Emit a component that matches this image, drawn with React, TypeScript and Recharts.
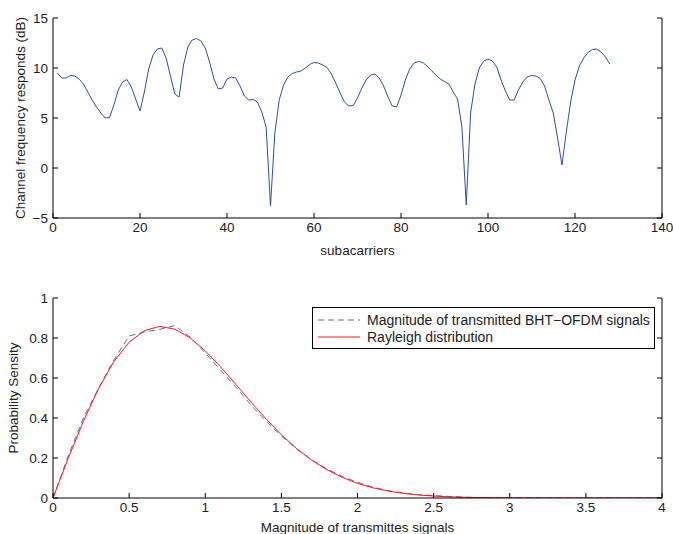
import { LineChart, Line, XAxis, YAxis } from 'recharts';

// channel frequency response (dB), subcarriers 1..128
const channelResponse = [
  9.5, 9.0, 9.0, 9.25, 9.2, 8.9, 8.4, 7.6, 6.8, 6.1,
  5.5, 5.0, 5.05, 6.3, 7.8, 8.6, 8.85, 8.1, 6.9, 5.7,
  7.6, 9.9, 11.3, 11.9, 12.0, 11.0, 9.2, 7.4, 7.1, 10.3,
  12.1, 12.8, 12.95, 12.7, 12.0, 10.6, 8.9, 7.9, 8.0, 8.9,
  9.1, 9.0, 8.2, 7.2, 6.8, 6.85, 6.6, 5.6, 4.1, -3.8,
  3.5, 6.8, 8.3, 9.1, 9.45, 9.6, 9.7, 10.0, 10.35, 10.55,
  10.5, 10.3, 10.05, 9.4, 8.5, 7.5, 6.6, 6.2, 6.25, 7.0,
  8.0, 8.8, 9.3, 9.4, 9.0, 8.2, 7.1, 6.2, 6.1, 7.3,
  8.8, 9.9, 10.5, 10.65, 10.55, 10.2, 9.75, 9.3, 8.9, 8.65,
  8.4, 7.6, 6.9, 4.1, -3.7, 5.5, 8.4, 10.0, 10.7, 10.9,
  10.7, 10.1, 8.8, 7.7, 6.8, 6.8, 7.8, 8.6, 9.1, 9.25,
  9.2, 8.95, 8.2, 6.8, 5.5, 3.0, 0.3, 3.6, 6.6, 8.8,
  10.2, 11.0, 11.55, 11.85, 11.9, 11.6, 11.1, 10.4,
];
const subcarriers = channelResponse.map((_, i) => i + 1);
const subcarrierTicks = [0, 20, 40, 60, 80, 100, 120, 140];
const responseTicks = [-5, 0, 5, 10, 15];

// probability density, magnitude 0..4 in steps of 0.1
const bhtOfdmDensity = [
  0, 0.21, 0.4, 0.55, 0.69, 0.81, 0.83, 0.843, 0.862, 0.805,
  0.725, 0.64, 0.555, 0.465, 0.385, 0.31, 0.245, 0.19, 0.145, 0.108,
  0.078, 0.055, 0.037, 0.025, 0.017, 0.012, 0.008, 0.004, 0.002, 0.002,
  0.001, 0.001, 0.001, 0, 0, 0, 0, 0, 0, 0, 0,
];
const rayleighDensity = [
  0, 0.198, 0.384, 0.548, 0.682, 0.779, 0.837, 0.858, 0.844, 0.801,
  0.736, 0.656, 0.569, 0.48, 0.395, 0.316, 0.247, 0.189, 0.141, 0.103,
  0.073, 0.051, 0.035, 0.023, 0.015, 0.0097, 0.006, 0.0037, 0.0022, 0.0013,
  0.0007, 0.0004, 0.0002, 0.0001, 0, 0, 0, 0, 0, 0, 0,
];
const magnitudes = rayleighDensity.map((_, i) => i / 10);
const magnitudeTicks = [0, 0.5, 1, 1.5, 2, 2.5, 3, 3.5, 4];
const densityTicks = [0, 0.2, 0.4, 0.6, 0.8, 1];

const font = '"Liberation Sans", Arial, sans-serif';
const tickStyle = { fill: '#222', fontSize: 13.5, fontFamily: font };
const labelStyle = { fill: '#222', fontSize: 13.5, fontFamily: font, textAnchor: 'middle' as const };
const minus = (v: number) => (v < 0 ? `\u2212${Math.abs(v)}` : `${v}`);
const blank = () => '';

const W = 673;
const H = 270;
const margin = { top: 18, right: 10, bottom: 0, left: 0 };

export default function App() {
  const channelData = subcarriers.map((x, i) => ({ x, db: channelResponse[i] }));
  const densityData = magnitudes.map((x, i) => ({
    x,
    bht: bhtOfdmDensity[i],
    rayleigh: rayleighDensity[i],
  }));

  return (
    <div style={{ position: 'relative', width: W, height: 534, overflow: 'hidden', background: '#fff' }}>
      <style>{'body{margin:0}'}</style>

      <div style={{ position: 'absolute', left: 0, top: 0 }}>
        <LineChart width={W} height={H} data={channelData} margin={margin}>
          <XAxis
            dataKey="x"
            type="number"
            domain={[0, 140]}
            ticks={subcarrierTicks}
            allowDataOverflow
            stroke="#000"
            tickSize={-5}
            tickMargin={9}
            tick={tickStyle}
            height={52}
            label={{ value: 'subacarriers', position: 'insideBottom', offset: 15, style: labelStyle }}
          />
          <XAxis
            xAxisId="top"
            orientation="top"
            type="number"
            domain={[0, 140]}
            ticks={subcarrierTicks}
            allowDataOverflow
            stroke="#000"
            tickSize={-5}
            tickFormatter={blank}
            height={0}
          />
          <YAxis
            type="number"
            domain={[-5, 15]}
            ticks={responseTicks}
            allowDataOverflow
            stroke="#000"
            tickSize={-5}
            tickMargin={10}
            tick={tickStyle}
            tickFormatter={minus}
            width={53}
            label={{
              value: 'Channel frequency responds (dB)',
              angle: -90,
              position: 'insideLeft',
              offset: 20,
              style: labelStyle,
            }}
          />
          <YAxis
            yAxisId="right"
            orientation="right"
            type="number"
            domain={[-5, 15]}
            ticks={responseTicks}
            allowDataOverflow
            stroke="#000"
            tickSize={-5}
            tickFormatter={blank}
            width={1}
          />
          <Line
            type="linear"
            dataKey="db"
            stroke="#2f4fa3"
            strokeWidth={1}
            dot={false}
            isAnimationActive={false}
          />
        </LineChart>
      </div>

      <div style={{ position: 'absolute', left: 0, top: 280 }}>
        <LineChart width={W} height={H} data={densityData} margin={margin}>
          <XAxis
            dataKey="x"
            type="number"
            domain={[0, 4]}
            ticks={magnitudeTicks}
            allowDataOverflow
            stroke="#000"
            tickSize={-5}
            tickMargin={9}
            tick={tickStyle}
            height={52}
            label={{ value: 'Magnitude of transmittes signals', position: 'insideBottom', offset: 18, style: labelStyle }}
          />
          <XAxis
            xAxisId="top"
            orientation="top"
            type="number"
            domain={[0, 4]}
            ticks={magnitudeTicks}
            allowDataOverflow
            stroke="#000"
            tickSize={-5}
            tickFormatter={blank}
            height={0}
          />
          <YAxis
            type="number"
            domain={[0, 1]}
            ticks={densityTicks}
            allowDataOverflow
            stroke="#000"
            tickSize={-5}
            tickMargin={10}
            tick={tickStyle}
            width={53}
            label={{
              value: 'Probability Sensity',
              angle: -90,
              position: 'insideLeft',
              offset: 13,
              style: labelStyle,
            }}
          />
          <YAxis
            yAxisId="right"
            orientation="right"
            type="number"
            domain={[0, 1]}
            ticks={densityTicks}
            allowDataOverflow
            stroke="#000"
            tickSize={-5}
            tickFormatter={blank}
            width={1}
          />
          <Line
            type="linear"
            dataKey="bht"
            stroke="#4a6cc0"
            strokeWidth={1}
            strokeDasharray="6 4"
            dot={false}
            isAnimationActive={false}
          />
          <Line
            type="linear"
            dataKey="rayleigh"
            stroke="#ff1a1a"
            strokeWidth={1}
            dot={false}
            isAnimationActive={false}
          />
        </LineChart>
      </div>

      <div
        style={{
          position: 'absolute',
          left: 312,
          top: 307,
          width: 343,
          height: 42,
          boxSizing: 'border-box',
          border: '1px solid #000',
          background: '#fff',
          fontFamily: font,
          fontSize: 14,
          color: '#222',
          padding: '3px 0 0 5px',
        }}
      >
        {[
          { name: 'Magnitude of transmitted BHT\u2212OFDM signals', color: '#4a6cc0', dash: '6 4' },
          { name: 'Rayleigh distribution', color: '#ff1a1a', dash: undefined },
        ].map((item) => (
          <div key={item.name} style={{ display: 'flex', alignItems: 'center', height: 17 }}>
            <svg width={42} height={10} style={{ marginRight: 7 }}>
              <line x1={0} y1={5} x2={42} y2={5} stroke={item.color} strokeWidth={1} strokeDasharray={item.dash} />
            </svg>
            <span>{item.name}</span>
          </div>
        ))}
      </div>
    </div>
  );
}
